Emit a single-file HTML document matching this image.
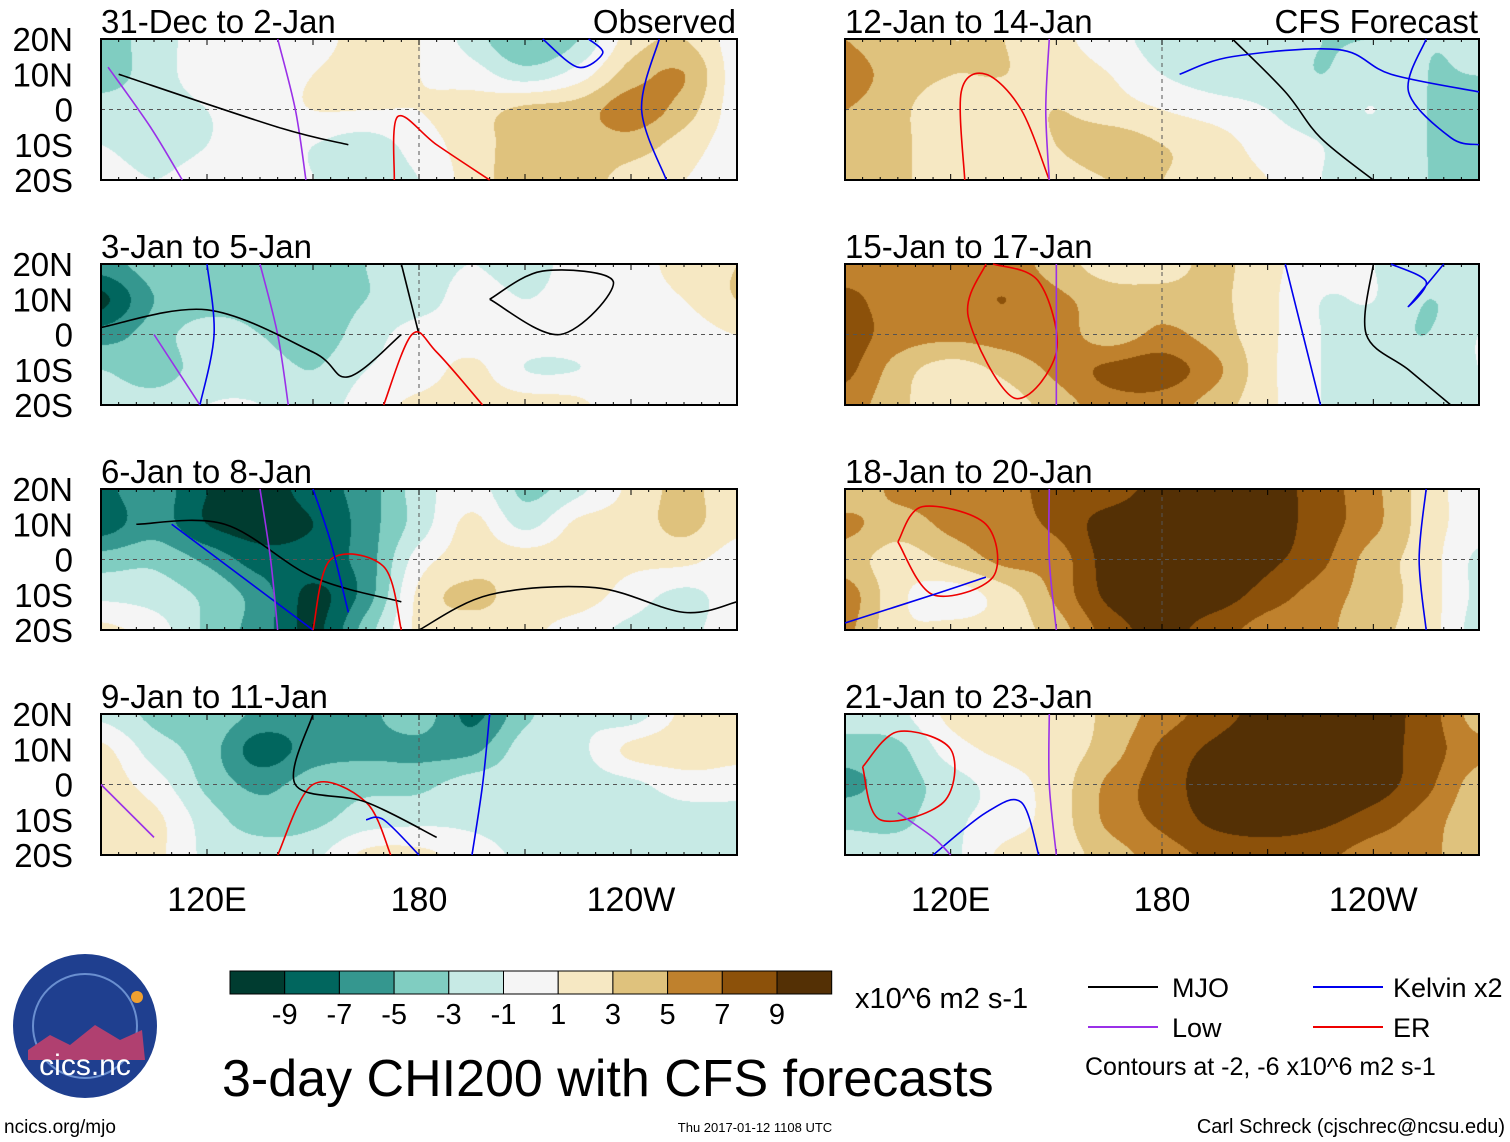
<!DOCTYPE html>
<html><head><meta charset="utf-8"><style>
body{margin:0;background:#fff;width:1510px;height:1142px;overflow:hidden;font-family:"Liberation Sans",sans-serif;}
svg{position:absolute;left:0;top:0}
canvas{position:absolute}
</style></head><body>
<div id="maps"></div>
<svg id="s" width="1510" height="1142"></svg>
<script>
const lonNodes=[90,105,120,135,150,165,180,195,210,225,240,255,270];
const latNodes=[20,10,0,-10,-20];
const titles=["31-Dec to 2-Jan","12-Jan to 14-Jan","3-Jan to 5-Jan","15-Jan to 17-Jan","6-Jan to 8-Jan","18-Jan to 20-Jan","9-Jan to 11-Jan","21-Jan to 23-Jan"];
const levels=[-9,-7,-5,-3,-1,1,3,5,7,9];
const colors=["#003c30","#01665e","#35978f","#80cdc1","#c7eae5","#f5f5f5","#f6e8c3","#dfc27d","#bf812d","#8c510a","#543005"];
const field0=[[-4,-2,0,0,0,2,1,-2,-5,-3,2,3,0],[-4,-2,0,0,1,2,1,0,-2,0,4,5,0],[-2,-2,-1,0,1,1,1,2,3.5,4,6,4,0],[-1,-2,-1,0,-1,-2,0,2,4,4,4,2,0],[0,-1,0,0,-1,-2,-1,2,4,4,2,1,0]];
const field1=[[5,3.5,3,3,1.5,0,-2,-2,-2,-3,-3,-3,-3],[6,4,3,3,2,1,-1,-2,-2,-3,-2,-3,-3],[5,3.5,1.5,2,3,2,1,0,-1,-2,-1,-3,-4],[4.5,3.5,1.5,1.5,3,4,3,2,0,-1,-2,-3,-4],[4.5,3.5,1.5,1.5,2,3,3,2,1,-1,-2,-3,-3]];
const field2=[[-6,-4,-4,-5,-4,-3,-2,-1,-2,0,0,2,3],[-9.5,-5,-4,-4,-4,-3,-2,0,-1,0,0,1,3],[-6,-4,-2,-3,-4,-2,0,0,0,0,0,0,1],[-3,-4,-2,-2,-3,-1,0,1.5,-1,-1,0,0,0],[-2,-2,-1,-1,-2,0,1.5,2,2,1.5,-1,0,0]];
const field3=[[6,6,5.5,6,4,2,2,3.5,1.5,0,-1,-2,-1],[7.5,6,6,7,5.5,4,4,3.5,1.5,-1,-1,-3,-2],[8,6,5.5,6,6,4,5.5,4,1.5,-1,-2,-3,-1],[7.5,4,2,3.5,5.5,7.5,8,5.5,1.5,-1,-2,-2,-1],[6,3.5,1.5,2,4,6,6,4,1.5,-1,-2,-2,-1]];
const field4=[[-7.5,-6,-9,-10,-8,-6,-2,0,-3.5,-1.5,1.5,3.5,1.5],[-8,-6,-9,-10,-9,-6,-2,1.5,-1.5,1.5,2,3.5,1.5],[-4,-3.5,-5.5,-8,-8,-6,0,2,2,2,1.5,1.5,0],[-1.5,-2,-3.5,-6,-9.5,-6,1.5,3.5,2,2,0,-1.5,0],[1.5,0,-3.5,-6,-9.5,-4,1.5,2,1.5,0,-1.5,-1.5,0]];
const field5=[[3.5,5.5,6,6,8,8,10,11,10,8,5.5,2,0],[5.5,4,5.5,6,7.5,10,11,11,10,8,5.5,2,0],[4,2,3.5,5.5,6,10,11,11,9.5,7.5,4,2,-1.5],[6,1.5,0,2,5.5,9.5,10,10,8,6,4,2,-1.5],[5.5,1.5,1.5,2,4,8,9.5,8,6,5.5,3.5,2,-2]];
const field6=[[-1.5,-3.5,-3.5,-5.5,-6,-5.5,-4,-7.5,-3.5,-1.5,-2,1.5,1.5],[1.5,-2,-4,-8,-6,-5.5,-5.5,-5.5,-2,-1.5,1.5,2,1.5],[2,0,-3.5,-5.5,-4,-3.5,-3.5,-2,-2,-2,-1.5,0,0],[2,1.5,-2,-4,-3.5,-2,-1.5,-1.5,-2,-2,-2,-2,-2],[2,1.5,-1.5,-2,-1.5,1.5,1.5,0,-1.5,-2,-2,-2,-2]];
const field7=[[-2,-1.5,1.5,2,2,3.5,6,8,10,11,10,8,4],[-4,-3.5,0,1.5,2,4,7.5,9.5,11,11,10,8,5.5],[-5.5,-4,-2,0,2,5.5,8,10,11,11,10,7.5,4],[-3.5,-3.5,-1.5,0,2,5.5,7.5,9.5,10,9.5,8,6,3.5],[-2,-2,-1.5,1.5,2,4,6,7.5,8,7.5,6,5.5,3.5]];
const fields=[field0,field1,field2,field3,field4,field5,field6,field7];
const lineTypes={mjo:"#000",kelvin:"#0000ee",low:"#9a30e8",er:"#ee0000"};
const lines=[
[0,"low",[92,104,113],[12,-5,-20]],[0,"low",[140,145,148],[20,0,-20]],
[0,"er",[173,174,185,200],[-20,-2,-10,-20]],[0,"kelvin",[248,243,250],[20,0,-20]],[0,"mjo",[95,140,160],[10,-5,-10]],
[0,"kelvin",[215,225,232,228],[20,12,16,20]],
[1,"er",[124,123,130,140,148],[-20,5,10,0,-20]],[1,"low",[148,147,148],[20,0,-20]],
[1,"mjo",[200,215,225,240],[20,5,-8,-20]],[1,"kelvin",[185,200,230,245,270],[10,15,17,10,5]],[1,"kelvin",[255,250,262,270],[20,5,-8,-10]],
[2,"low",[135,140,143],[20,0,-20]],[2,"low",[105,118],[0,-20]],[2,"mjo",[90,120,150,160,175],[2,7,-5,-12,0]],[2,"mjo",[175,180],[20,0]],
[2,"er",[170,178,185,198],[-20,0,-5,-20]],[2,"kelvin",[120,122,118],[20,0,-20]],[2,"mjo",[200,220,235,215,200],[10,0,15,18,10]],
[3,"er",[130,125,138,150,145,132],[20,5,-18,-5,15,20]],[3,"low",[150,150,150],[20,0,-20]],[3,"mjo",[240,238,250,262],[20,0,-10,-20]],
[3,"kelvin",[215,220,225],[20,0,-20]],[3,"kelvin",[245,255,250,260],[20,15,8,20]],
[4,"mjo",[100,125,150,175],[10,10,-5,-12]],[4,"kelvin",[110,130,150],[10,-5,-20]],[4,"low",[135,138,140],[20,0,-20]],
[4,"er",[150,155,170,175],[-20,0,-2,-20]],[4,"mjo",[180,200,230,255,270],[-20,-10,-8,-15,-12]],[4,"kelvin",[150,155,160],[20,5,-15]],
[5,"er",[105,112,130,132,115,105],[5,15,10,-5,-10,5]],[5,"low",[148,148,150],[20,0,-20]],[5,"kelvin",[90,115,130],[-18,-10,-5]],[5,"kelvin",[255,253,255],[20,0,-20]],
[6,"er",[140,150,165,172],[-20,0,-5,-20]],[6,"mjo",[150,145,165,185],[20,0,-5,-15]],[6,"kelvin",[200,198,195],[20,0,-20]],
[6,"low",[90,105],[0,-15]],[6,"kelvin",[165,170,180],[-10,-10,-20]],
[7,"er",[95,105,120,118,100,95],[5,15,10,-5,-10,5]],[7,"low",[148,148,150],[20,0,-20]],[7,"kelvin",[115,130,140,145],[-20,-8,-5,-20]],[7,"low",[105,115,120],[-8,-15,-20]]
];
const panels=[];
const tops=[39,264,489,714];
for(let i=0;i<8;i++){panels.push({x0:i%2?845:101,w:i%2?634:636,top:tops[i>>1],h:141});}
const NS="http://www.w3.org/2000/svg";
const svg=document.getElementById('s');
function el(t,a,p){const e=document.createElementNS(NS,t);for(const k in a)e.setAttribute(k,a[k]);(p||svg).appendChild(e);return e;}
function xOf(p,lon){return p.x0+(lon-90)/180*p.w;}
function yOf(p,lat){return p.top+(20-lat)/40*p.h;}
function colorFor(v){let i=0;while(i<levels.length&&v>=levels[i])i++;return colors[i];}
function hex(c){return [parseInt(c.substr(1,2),16),parseInt(c.substr(3,2),16),parseInt(c.substr(5,2),16)];}
function cr(p0,p1,p2,p3,t){return 0.5*((2*p1)+(-p0+p2)*t+(2*p0-5*p1+4*p2-p3)*t*t+(-p0+3*p1-3*p2+p3)*t*t*t);}
function g(f,j,i){j=Math.max(0,Math.min(4,j));i=Math.max(0,Math.min(12,i));return f[j][i];}
function sample(f,lon,lat){
  let fx=(lon-90)/15,fy=(20-lat)/10;
  let i=Math.min(11,Math.floor(fx)),j=Math.min(3,Math.floor(fy));
  let tx=fx-i,ty=fy-j;
  const r=[];
  for(let m=-1;m<=2;m++)r.push(cr(g(f,j+m,i-1),g(f,j+m,i),g(f,j+m,i+1),g(f,j+m,i+2),tx));
  return cr(r[0],r[1],r[2],r[3],ty)+0.013;
}
const maps=document.getElementById('maps');
panels.forEach((p,k)=>{
  const cv=document.createElement('canvas');
  cv.width=p.w;cv.height=p.h;cv.style.left=p.x0+'px';cv.style.top=p.top+'px';
  
  
  maps.appendChild(cv);
  const ctx=cv.getContext('2d');const img=ctx.createImageData(p.w,p.h);
  for(let y=0;y<p.h;y++)for(let x=0;x<p.w;x++){
    const lon=90+x/p.w*180,lat=20-y/p.h*40;
    const c=hex(colorFor(sample(fields[k],lon,lat)));
    const o=(y*p.w+x)*4;img.data[o]=c[0];img.data[o+1]=c[1];img.data[o+2]=c[2];img.data[o+3]=255;
  }
  ctx.putImageData(img,0,0);
  el('line',{x1:p.x0,x2:p.x0+p.w,y1:yOf(p,0),y2:yOf(p,0),stroke:'#555','stroke-dasharray':'4,4','stroke-width':1});
  el('line',{x1:xOf(p,180),x2:xOf(p,180),y1:p.top,y2:p.top+p.h,stroke:'#555','stroke-dasharray':'4,4','stroke-width':1});
  el('rect',{x:p.x0,y:p.top,width:p.w,height:p.h,fill:'none',stroke:'#000','stroke-width':2});
  for(let lon=90;lon<=270;lon+=5){const len=lon%30==0?6:3;
    el('line',{x1:xOf(p,lon),x2:xOf(p,lon),y1:p.top,y2:p.top+len,stroke:'#000'});
    el('line',{x1:xOf(p,lon),x2:xOf(p,lon),y1:p.top+p.h,y2:p.top+p.h-len,stroke:'#000'});}
  const t=el('text',{x:p.x0,y:p.top-6,'font-size':33,fill:'#000'});t.textContent=titles[k];
  
  if(k%2==0){['20N','10N','0','10S','20S'].forEach((s,j)=>{const tt=el('text',{x:73,y:p.top+j*35.25+12,'font-size':33,'text-anchor':'end'});tt.textContent=s;
    });}
});
function smoothPath(pts){
  if(pts.length<3)return 'M'+pts.map(q=>q.join(',')).join(' L');
  let d='M'+pts[0].join(',');
  for(let i=0;i<pts.length-1;i++){
    const p0=pts[Math.max(0,i-1)],p1=pts[i],p2=pts[i+1],p3=pts[Math.min(pts.length-1,i+2)];
    const c1=[p1[0]+(p2[0]-p0[0])/6,p1[1]+(p2[1]-p0[1])/6],c2=[p2[0]-(p3[0]-p1[0])/6,p2[1]-(p3[1]-p1[1])/6];
    d+=' C'+c1.join(',')+' '+c2.join(',')+' '+p2.join(',');
  }
  return d;
}
lines.forEach(L=>{const p=panels[L[0]];
  const pts=L[2].map((lo,i)=>[xOf(p,lo),yOf(p,L[3][i])]);
  const e=el('path',{d:smoothPath(pts),fill:'none',stroke:lineTypes[L[1]],'stroke-width':1.6});
  
});
const t0=el('text',{x:736,y:33,'font-size':33,'text-anchor':'end'});t0.textContent='Observed';
const t1=el('text',{x:1478,y:33,'font-size':33,'text-anchor':'end'});t1.textContent='CFS Forecast';
[panels[6],panels[7]].forEach(p=>{[['120E',120],['180',180],['120W',240]].forEach(q=>{const tt=el('text',{x:xOf(p,q[1]),y:911,'font-size':34,'text-anchor':'middle'});tt.textContent=q[0];
  });});
const cb=el('g',{});
colors.forEach((c,i)=>el('rect',{x:230+i*54.7,y:971,width:54.7,height:23,fill:c,stroke:'#000','stroke-width':1},cb));
levels.forEach((v,i)=>{const tt=el('text',{x:230+(i+1)*54.7,y:1024,'font-size':29,'text-anchor':'middle'},cb);tt.textContent=v;});
const un=el('text',{x:855,y:1008,'font-size':29});un.textContent='x10^6 m2 s-1';
const ti=el('text',{x:222,y:1096,'font-size':52});ti.textContent='3-day CHI200 with CFS forecasts';

const lg=el('g',{});
[[1088,987,'#000','MJO',1172],[1313,987,'#0000ee','Kelvin x2',1393],[1088,1027,'#9a30e8','Low',1172],[1313,1027,'#ee0000','ER',1393]].forEach(q=>{
  el('line',{x1:q[0],x2:q[0]+70,y1:q[1],y2:q[1],stroke:q[2],'stroke-width':2},lg);
  const tt=el('text',{x:q[4],y:q[1]+10,'font-size':27},lg);tt.textContent=q[3];});
const ct=el('text',{x:1085,y:1075,'font-size':25});ct.textContent='Contours at -2, -6 x10^6 m2 s-1';
const f1=el('text',{x:4,y:1133,'font-size':19});f1.textContent='ncics.org/mjo';
const f2=el('text',{x:755,y:1132,'font-size':13,'text-anchor':'middle'});f2.textContent='Thu 2017-01-12 1108 UTC';
const f3=el('text',{x:1505,y:1133,'font-size':20,'text-anchor':'end'});f3.textContent='Carl Schreck (cjschrec@ncsu.edu)';
const lo=el('g',{});
el('circle',{cx:85,cy:1026,r:72,fill:'#1f3f8f'},lo);
el('circle',{cx:85,cy:1026,r:52,fill:'none',stroke:'#6a8fd0','stroke-width':2},lo);
el('path',{d:'M28,1050 L50,1035 L70,1045 L95,1025 L120,1040 L142,1030 L145,1060 L28,1060 Z',fill:'#b04070'},lo);
el('circle',{cx:137,cy:997,r:6,fill:'#f0a030'},lo);
const lt=el('text',{x:85,y:1075,'font-size':30,fill:'#fff','text-anchor':'middle'},lo);lt.textContent='cics.nc';
</script>
</body></html>
